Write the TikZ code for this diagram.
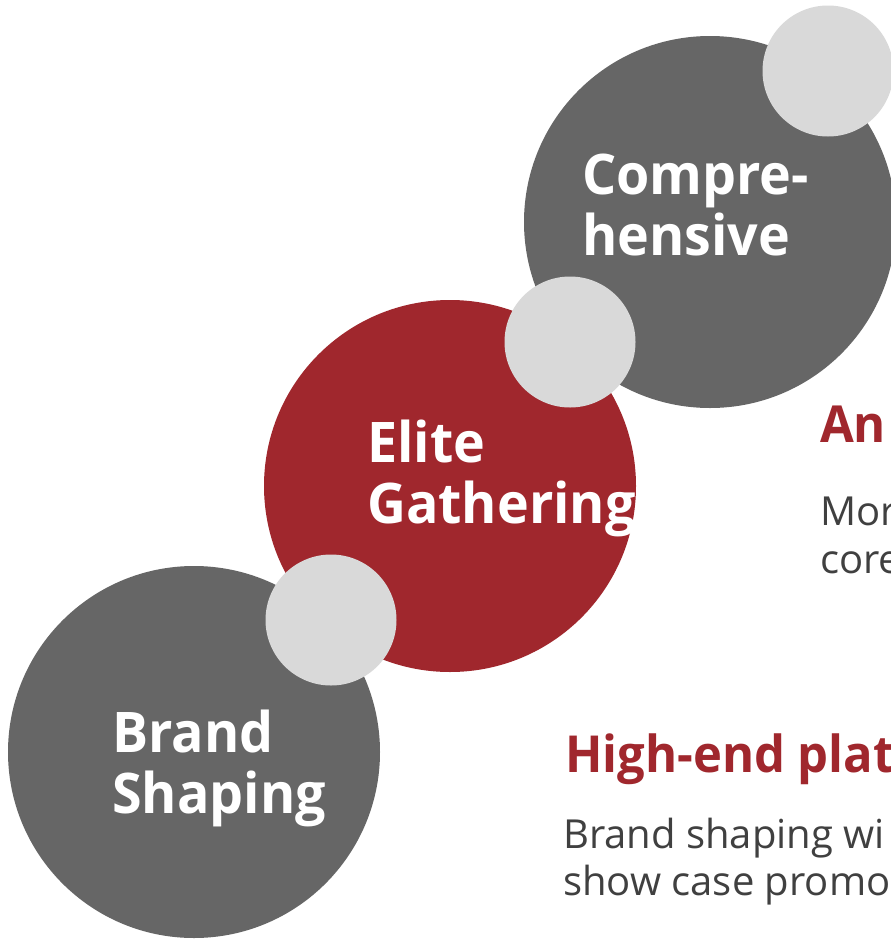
\documentclass[tikz,border=0pt]{standalone}
\usepackage{fontspec}
\setmainfont{Open Sans}[BoldFeatures={FakeStretch=0.96}]
\definecolor{cgray}{RGB}{102,102,102}
\definecolor{cred}{RGB}{160,39,45}
\definecolor{clight}{RGB}{217,217,217}
\definecolor{ctext}{RGB}{64,64,64}
\tikzset{
  bigc/.style={circle, minimum size=372pt, inner sep=0pt, draw=none},
  smallc/.style={circle, minimum size=131pt, inner sep=0pt, fill=clight, draw=none},
  ctitle/.style={anchor=base west, inner sep=0pt, text=white, font=\fontsize{56}{61}\selectfont\bfseries},
  chead/.style={anchor=base west, inner sep=0pt, text=cred, font=\fontsize{51}{60}\selectfont\bfseries},
  cbody/.style={anchor=base west, inner sep=0pt, text=ctext, font=\fontsize{40}{47}\selectfont},
}
\begin{document}
\begin{tikzpicture}[x=1pt,y=-1pt]
\useasboundingbox (0,0) rectangle (891,940);
\clip (0,0) rectangle (891,940);
\fill[white] (0,0) rectangle (891,940);
\node[bigc, fill=cgray] (brand) at (194,752) {};
\node[bigc, fill=cred] (elite) at (450,486) {};
\node[bigc, fill=cgray] (comp) at (710,222) {};
\node[smallc] (s1) at (331,620) {};
\node[smallc] (s2) at (570,342) {};
\node[smallc] (s3) at (828,71) {};
\node[ctitle] (c1) at (582,194) {Compre-};
\node[ctitle] (c2) at (582,255) {hensive};
\node[ctitle] (e1) at (367,462) {Elite};
\node[ctitle] (e2) at (367,523) {Gathering};
\node[ctitle] (b1) at (112,752) {Brand};
\node[ctitle] (b2) at (112,813) {Shaping};
\node[chead] (h1) at (820,442) {An};
\node[cbody] (m1) at (820,525) {Mor};
\node[cbody] (m2) at (820,573) {core};
\node[chead] (h2) at (565,772) {High-end plat};
\node[cbody] (d1) at (563,848) {Brand shaping wi};
\node[cbody] (d2) at (563,895) {show case promo};
\end{tikzpicture}
\end{document}
